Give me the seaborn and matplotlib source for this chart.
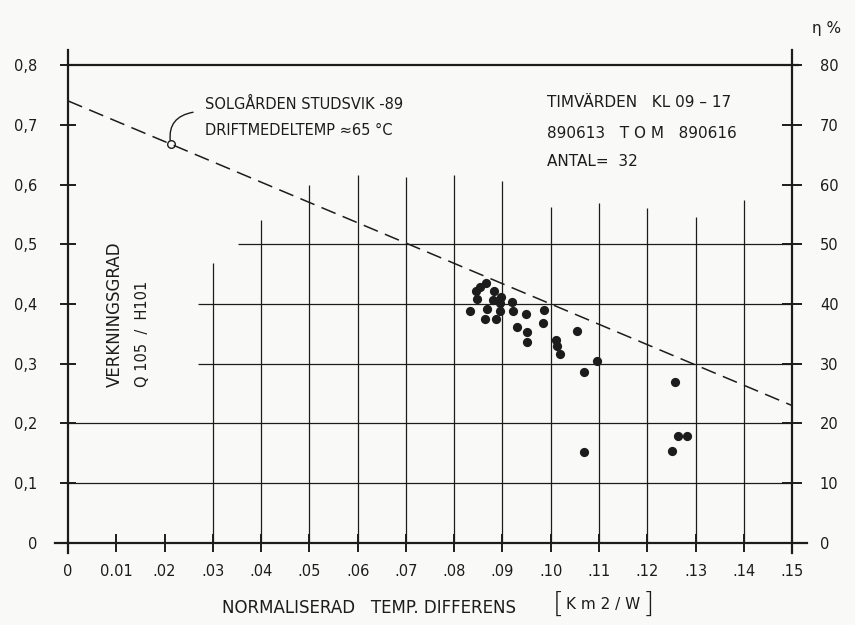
import matplotlib
matplotlib.use("Agg")
import matplotlib.pyplot as plt
import seaborn as sns
import pandas as pd

# Hourly measurements: normalised temperature difference [K m2/W] vs efficiency
temp_diff = [0.0866, 0.0854, 0.0845, 0.0883, 0.0896, 0.0848, 0.0880, 0.0895,
             0.0920, 0.0833, 0.0869, 0.0895, 0.0921, 0.0949, 0.0986, 0.0864,
             0.0886, 0.0983, 0.0930, 0.0950, 0.0950, 0.1054, 0.1010, 0.1014,
             0.1019, 0.1095, 0.1069, 0.1258, 0.1069, 0.1263, 0.1282, 0.1251]
efficiency = [0.435, 0.429, 0.422, 0.421, 0.412, 0.408, 0.407, 0.402,
              0.404, 0.389, 0.391, 0.389, 0.388, 0.384, 0.390, 0.375,
              0.375, 0.369, 0.362, 0.353, 0.337, 0.354, 0.340, 0.329,
              0.317, 0.305, 0.287, 0.270, 0.153, 0.179, 0.179, 0.154]

# Reference efficiency line
line_x = [0.0, 0.15]
line_y = [0.74, 0.23]
marked_point = (0.0213, 0.667)

# Axis ticks and labels
x_ticks = [0.0, 0.01, 0.02, 0.03, 0.04, 0.05, 0.06, 0.07, 0.08, 0.09, 0.10,
           0.11, 0.12, 0.13, 0.14, 0.15]
x_labels = ["0", "0.01", ".02", ".03", ".04", ".05", ".06", ".07", ".08",
            ".09", ".10", ".11", ".12", ".13", ".14", ".15"]
y_ticks = [0.0, 0.1, 0.2, 0.3, 0.4, 0.5, 0.6, 0.7, 0.8]
y_labels = ["0", "0,1", "0,2", "0,3", "0,4", "0,5", "0,6", "0,7", "0,8"]
pct_ticks = [0, 10, 20, 30, 40, 50, 60, 70, 80]

# Hand-drawn grid: vertical lines and their upper ends
grid_x = [0.03, 0.04, 0.05, 0.06, 0.07, 0.08, 0.09, 0.10, 0.11, 0.12, 0.13, 0.14]
grid_x_top = [0.468, 0.540, 0.599, 0.616, 0.613, 0.616, 0.606, 0.563, 0.569,
              0.561, 0.546, 0.574]
# horizontal lines and their left ends
grid_y = [0.1, 0.2, 0.3, 0.4, 0.5]
grid_y_start = [0.0, 0.0, 0.027, 0.027, 0.0353]

sns.set_theme(style="white")
plt.rcParams["font.family"] = ["DejaVu Sans"]

ink = "#1c1c1c"
paper = "#f9f9f7"

fig = plt.figure(figsize=(8.55, 6.25), dpi=100, facecolor=paper)
ax = fig.add_axes([0.0626, 0.1026, 0.8977, 0.822])
ax.set_facecolor(paper)
ax.set_xlim(-0.003, 0.156)
ax.set_ylim(-0.03, 0.83)

# Axes lines
for side in ["top", "right"]:
    ax.spines[side].set_visible(False)
ax.spines["left"].set_position(("data", 0))
ax.spines["left"].set_bounds(-0.017, 0.825)
ax.spines["bottom"].set_position(("data", 0))
ax.spines["bottom"].set_bounds(-0.0027, 0.1531)
for side in ["left", "bottom"]:
    ax.spines[side].set_color(ink)
    ax.spines[side].set_linewidth(1.6)

ax.set_xticks(x_ticks)
ax.set_xticklabels(x_labels)
ax.set_yticks(y_ticks)
ax.set_yticklabels(y_labels)
ax.tick_params(axis="x", direction="inout", length=13, width=1.4, pad=9,
               colors=ink, labelsize=10.5, bottom=True)
ax.tick_params(axis="y", direction="inout", length=12, width=1.4, pad=16,
               colors=ink, labelsize=10.5, left=True)

# Secondary scale in percent
ax2 = ax.twinx()
ax2.set_ylim(-3, 83)
for side in ["top", "left", "bottom"]:
    ax2.spines[side].set_visible(False)
ax2.spines["right"].set_position(("data", 0.15))
ax2.spines["right"].set_bounds(-1.7, 82.5)
ax2.spines["right"].set_color(ink)
ax2.spines["right"].set_linewidth(1.6)
ax2.set_yticks(pct_ticks)
ax2.set_yticklabels([str(v) for v in pct_ticks])
ax2.tick_params(axis="y", direction="inout", length=14, width=1.4, pad=13,
                colors=ink, labelsize=10.5, right=True)
ax2.grid(False)

# Grid
ax.vlines(grid_x, 0, grid_x_top, color=ink, lw=0.9)
ax.hlines(grid_y, grid_y_start, 0.15, color=ink, lw=0.9)
ax.hlines([0.8], 0, 0.1515, color=ink, lw=1.6)

# Reference line and the marked point on it
ax.plot(line_x, line_y, color=ink, lw=1.1, ls=(0, (10, 5)))
ax.plot([marked_point[0]], [marked_point[1]], marker="o", ms=5.5,
        mfc="none", mec=ink, mew=1.0)
ax.annotate("", xy=marked_point, xytext=(0.0259, 0.721),
            arrowprops=dict(arrowstyle="-", connectionstyle="arc3,rad=0.5",
                            color=ink, lw=1.0, shrinkA=0, shrinkB=3))

# Measured points
df = pd.DataFrame({"temp_diff": temp_diff, "efficiency": efficiency})
sns.scatterplot(data=df, x="temp_diff", y="efficiency", ax=ax, color=ink,
                s=44, linewidth=0, zorder=5)
ax.set_xlabel("")
ax.set_ylabel("")

# Annotations
txt = dict(color=ink, fontsize=10.5, va="center", ha="left")
ax.text(0.0284, 0.7347, "SOLGÅRDEN STUDSVIK -89", **txt)
ax.text(0.0284, 0.6912, "DRIFTMEDELTEMP ≈65 °C", **txt)
ax.text(0.0992, 0.738, "TIMVÄRDEN   KL 09 – 17", fontsize=11, color=ink,
        va="center", ha="left")
ax.text(0.0992, 0.686, "890613   T O M   890616", fontsize=11, color=ink,
        va="center", ha="left")
ax.text(0.0992, 0.638, "ANTAL=  32", fontsize=11, color=ink,
        va="center", ha="left")

ax.text(0.0097, 0.261, "VERKNINGSGRAD", rotation=90, ha="center",
        va="bottom", color=ink, fontsize=12)
ax.text(0.0155, 0.261, "Q 105  /  H101", rotation=90, ha="center",
        va="bottom", color=ink, fontsize=10.5)

ax.text(0.0319, -0.1088, "NORMALISERAD   TEMP. DIFFERENS", color=ink,
        fontsize=12, va="center", ha="left", clip_on=False)
ax.text(0.1005, -0.103, "[", color=ink, fontsize=21, va="center",
        ha="left", clip_on=False, fontweight="light")
ax.text(0.1032, -0.1025, "K m 2 / W", color=ink, fontsize=11,
        va="center", ha="left", clip_on=False)
ax.text(0.1190, -0.103, "]", color=ink, fontsize=21, va="center",
        ha="left", clip_on=False, fontweight="light")

ax.text(0.1572, 0.862, "η %", color=ink, fontsize=11, va="center",
        ha="center", clip_on=False)

fig.savefig("out.png", dpi=100, facecolor=paper)
